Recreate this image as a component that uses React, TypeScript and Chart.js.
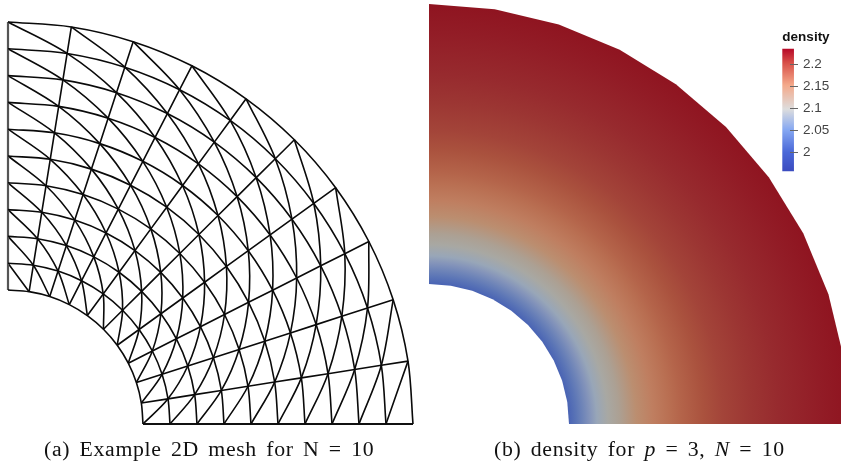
import React, { useEffect, useRef } from "react";
import { Chart, registerables } from "chart.js";

Chart.register(...registerables);

// Annulus sector data: ring radii and spoke angles (degrees) of the mesh nodes
const ringRadii = [1, 1.2, 1.4, 1.6, 1.8, 2, 2.2, 2.4, 2.6, 2.8, 3];
const spokeAngles = [0, 9, 18, 27, 36, 45, 54, 63, 72, 81, 90];

// Density field: colour at each radius
const surfaceRadii = [1, 1.05, 1.1, 1.15, 1.2, 1.28, 1.36, 1.48, 1.6, 1.72, 1.8, 1.96, 2.1, 2.3, 2.5, 2.8, 3];
const surfaceColors = ["#4a64b4", "#5a74b6", "#6e84b8", "#8494ba", "#98a6b8", "#a8a8a3", "#aca093", "#bb8e70", "#bf7e60", "#b96f52", "#b4644a", "#aa523e", "#a34439", "#9c3633", "#972a2e", "#921c26", "#8f1420"];

// Colour bar
const barRange = [1.958, 2.234];
const barTicks = [2, 2.05, 2.1, 2.15, 2.2];
const barStopValues = [1.958, 2, 2.05, 2.096, 2.15, 2.2, 2.234];
const barStopColors = ["#3b4cc0", "#4a68d8", "#86a8f2", "#dddddd", "#f4a98a", "#d84f48", "#b40426"];

const W = 841;
const H = 465;
const DENSITY_CX = 429;
const DENSITY_CY = 424;
const DENSITY_UNIT = 140;

const node = (r: number, deg: number) => ({
  x: r * Math.cos((deg * Math.PI) / 180),
  y: r * Math.sin((deg * Math.PI) / 180),
});

const meshLine = (pts: { x: number; y: number }[], tension: number, width = 1.6, color = "#0a0a0a") => ({
  type: "scatter" as const,
  xAxisID: "xMesh",
  yAxisID: "yMesh",
  data: pts,
  showLine: true,
  tension,
  borderColor: color,
  borderWidth: width,
  pointRadius: 0,
  fill: false,
});

function meshDatasets() {
  const sets: any[] = [];
  ringRadii.forEach((r) => sets.push(meshLine(spokeAngles.map((a) => node(r, a)), 0.33)));
  spokeAngles.forEach((a, j) => {
    const pts = ringRadii.map((r) => node(r, a));
    if (j === 10) sets.push(meshLine(pts, 0, 2.2, "#555555"));
    else if (j === 0) sets.push(meshLine(pts, 0, 1.9, "#111111"));
    else sets.push(meshLine(pts, 0));
  });
  for (let d = -9; d <= 9; d++) {
    const pts: { x: number; y: number }[] = [];
    ringRadii.forEach((r, i) => {
      const j = i + d;
      if (j >= 0 && j < spokeAngles.length) pts.push(node(r, spokeAngles[j]));
    });
    sets.push(meshLine(pts, 0.33));
  }
  return sets;
}

const surfaceGradient = (c: any) => {
  const { chart } = c;
  const g = chart.ctx.createRadialGradient(DENSITY_CX, DENSITY_CY, 0, DENSITY_CX, DENSITY_CY, DENSITY_UNIT * 3);
  surfaceRadii.forEach((r, i) => g.addColorStop(r / 3, surfaceColors[i]));
  return g;
};

const surfaceLine = (r: number, color: any) => ({
  type: "scatter" as const,
  xAxisID: "xDensity",
  yAxisID: "yDensity",
  data: [...spokeAngles].reverse().map((a) => node(r, a)),
  showLine: true,
  tension: 0,
  borderWidth: 0,
  pointRadius: 0,
  backgroundColor: color,
  fill: "origin",
});

const hidden = (min: number, max: number) => ({ type: "linear" as const, display: false, min, max });

export default function App() {
  const mainRef = useRef<HTMLCanvasElement>(null);
  const barRef = useRef<HTMLCanvasElement>(null);

  useEffect(() => {
    const main = new Chart(mainRef.current!, {
      type: "scatter",
      data: {
        datasets: [
          surfaceLine(ringRadii[0], "#ffffff"),
          surfaceLine(ringRadii[ringRadii.length - 1], surfaceGradient),
          ...meshDatasets(),
        ],
      },
      options: {
        animation: false,
        responsive: false,
        layout: { padding: 0 },
        plugins: { legend: { display: false }, title: { display: false }, tooltip: { enabled: false } },
        scales: {
          xMesh: hidden(-8 / 135, (W - 8) / 135),
          yMesh: hidden(-(H - 424) / 134, 424 / 134),
          xDensity: hidden(-DENSITY_CX / DENSITY_UNIT, (W - DENSITY_CX) / DENSITY_UNIT),
          yDensity: hidden(-(H - DENSITY_CY) / DENSITY_UNIT, DENSITY_CY / DENSITY_UNIT),
        },
      },
    } as any);

    const bar = new Chart(barRef.current!, {
      type: "bar",
      data: {
        datasets: [
          {
            xAxisID: "x",
            yAxisID: "y",
            data: [{ x: -5.25, y: barRange }],
            barThickness: 11,
            clip: false,
            borderWidth: 0,
            backgroundColor: (c: any) => {
              const top = 47.7 - 25;
              const bottom = 170.7 - 25;
              const g = c.chart.ctx.createLinearGradient(0, bottom, 0, top);
              barStopValues.forEach((v, i) =>
                g.addColorStop((v - barRange[0]) / (barRange[1] - barRange[0]), barStopColors[i])
              );
              return g;
            },
          },
        ],
      },
      options: {
        animation: false,
        responsive: false,
        layout: { padding: { left: 8, right: 7, top: 0, bottom: 5 } },
        plugins: {
          legend: { display: false },
          tooltip: { enabled: false },
          title: {
            display: true,
            text: "density",
            color: "#111111",
            font: { family: "'Liberation Sans'", size: 13.5, weight: "bold" },
            padding: { top: 4, bottom: 4 },
          },
        },
        scales: {
          x: { type: "linear", display: false, min: 0, max: 3 },
          spacer: {
            type: "linear",
            position: "left",
            min: 0,
            max: 1,
            afterBuildTicks: (s: any) => {
              s.ticks = [];
            },
            afterFit: (s: any) => {
              s.width = 12;
            },
            border: { display: false },
            grid: { display: false },
            ticks: { display: false },
          },
          y: {
            type: "linear",
            position: "right",
            min: barRange[0],
            max: barRange[1],
            afterBuildTicks: (s: any) => {
              s.ticks = barTicks.map((value) => ({ value }));
            },
            afterFit: (s: any) => {
              s.width = 41;
            },
            border: { display: false },
            grid: { color: "#666666", lineWidth: 1, tickLength: 5, z: 1, drawOnChartArea: true },
            ticks: {
              color: "#444444",
              padding: 5,
              font: { family: "'Liberation Sans'", size: 13.5 },
              callback: (v: any) => String(v),
            },
          },
        },
      },
    } as any);

    return () => {
      main.destroy();
      bar.destroy();
    };
  }, []);

  const caption: React.CSSProperties = {
    position: "absolute",
    top: 438,
    whiteSpace: "nowrap",
    fontFamily: "'Liberation Serif', serif",
    fontSize: 20,
    lineHeight: "22px",
    letterSpacing: 0.6,
    wordSpacing: 3,
    color: "#111111",
    transform: "scaleX(1.09)",
    transformOrigin: "left center",
  };

  return (
    <div style={{ position: "fixed", left: 0, top: 0, width: W, height: H, background: "#fff", overflow: "hidden" }}>
      <canvas ref={mainRef} width={W} height={H} style={{ position: "absolute", left: 0, top: 0, width: W, height: H }} />
      <canvas ref={barRef} width={71} height={159} style={{ position: "absolute", left: 770, top: 25, width: 71, height: 159 }} />
      <div style={{ ...caption, left: 44 }}>(a) Example 2D mesh for N = 10</div>
      <div style={{ ...caption, left: 494 }}>
        (b) density for <i>p</i> = 3, <i>N</i> = 10
      </div>
    </div>
  );
}
